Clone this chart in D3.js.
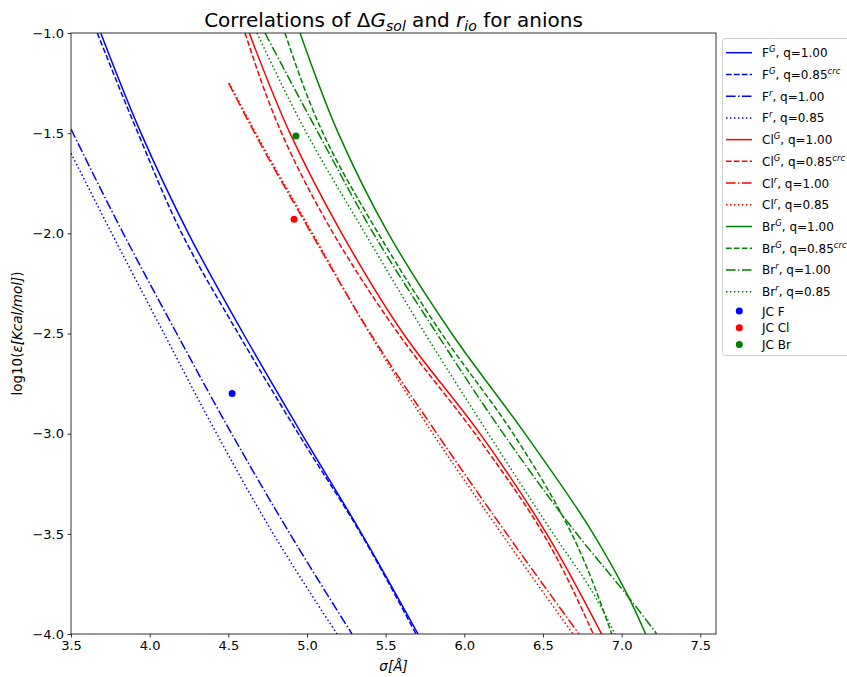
<!DOCTYPE html>
<html>
<head>
<meta charset="utf-8">
<script src="https://cdn.jsdelivr.net/npm/d3@7"></script>
<style>
  body { margin: 0; background: #fff; }
  text { font-family: "DejaVu Sans", sans-serif; fill: #000; }
</style>
</head>
<body>
<div id="chart"></div>
<script>
// tick values
var xTicks = [3.5, 4.0, 4.5, 5.0, 5.5, 6.0, 6.5, 7.0, 7.5];
var yTicks = [-1.0, -1.5, -2.0, -2.5, -3.0, -3.5, -4.0];

// curves: [sigma, log10(eps)]
var fG100 = [[3.689, -1], [3.945, -1.5], [4.246, -2], [4.595, -2.5], [4.966, -3], [5.348, -3.5], [5.706, -4]];
var fG085 = [[3.667, -1], [3.926, -1.5], [4.204, -2], [4.563, -2.5], [4.945, -3], [5.343, -3.5], [5.693, -4]];
var fR100 = [[3.5, -1.48], [3.832, -2], [4.172, -2.5], [4.521, -3], [4.892, -3.5], [5.286, -4]];
var fR085 = [[3.5, -1.6], [3.759, -2], [4.091, -2.5], [4.426, -3], [4.786, -3.5], [5.191, -4]];

var clG100 = [[4.633, -1], [4.892, -1.5], [5.221, -2], [5.612, -2.5], [6.100, -3], [6.524, -3.5], [6.873, -4]];
var clG085 = [[4.606, -1], [4.839, -1.5], [5.167, -2], [5.580, -2.5], [6.068, -3], [6.502, -3.5], [6.820, -4]];
var clR100 = [[4.502, -1.25], [4.668, -1.5], [5.028, -2], [5.403, -2.5], [5.826, -3], [6.270, -3.5], [6.729, -4]];
var clR085 = [[4.506, -1.25], [4.675, -1.5], [5.036, -2], [5.398, -2.5], [5.800, -3], [6.238, -3.5], [6.691, -4]];

var brG100 = [[4.956, -1], [5.199, -1.5], [5.517, -2], [5.920, -2.5], [6.386, -3], [6.820, -3.5], [7.054, -3.831], [7.153, -4]];
var brG085 = [[4.860, -1], [5.102, -1.5], [5.453, -2], [5.856, -2.5], [6.311, -3], [6.683, -3.5], [6.937, -4]];
var brR100 = [[4.733, -1], [5.072, -1.5], [5.422, -2], [5.825, -2.5], [6.248, -3], [6.715, -3.5], [7.075, -3.847], [7.223, -4]];
var brR085 = [[4.682, -1], [4.998, -1.5], [5.369, -2], [5.750, -2.5], [6.153, -3], [6.566, -3.5], [6.820, -3.797], [6.958, -4]];

// Joung-Cheatham points
var jcNames = ["JC F", "JC Cl", "JC Br"];
var jcSigma = [4.524, 4.918, 4.930];
var jcLogEps = [-2.80, -1.93, -1.514];

var blue = "#0000ff", red = "#ff0000", green = "#008000";
var dashes = { solid: null, dashed: "5.55,2.4", dashdot: "9.6,2.4,1.5,2.4", dotted: "1.5,2.475" };

var series = [
  { ion: "F", sup: "G", q: "1.00", crc: false, color: blue, dash: "solid", data: fG100 },
  { ion: "F", sup: "G", q: "0.85", crc: true, color: blue, dash: "dashed", data: fG085 },
  { ion: "F", sup: "r", q: "1.00", crc: false, color: blue, dash: "dashdot", data: fR100 },
  { ion: "F", sup: "r", q: "0.85", crc: false, color: blue, dash: "dotted", data: fR085 },
  { ion: "Cl", sup: "G", q: "1.00", crc: false, color: red, dash: "solid", data: clG100 },
  { ion: "Cl", sup: "G", q: "0.85", crc: true, color: red, dash: "dashed", data: clG085 },
  { ion: "Cl", sup: "r", q: "1.00", crc: false, color: red, dash: "dashdot", data: clR100 },
  { ion: "Cl", sup: "r", q: "0.85", crc: false, color: red, dash: "dotted", data: clR085 },
  { ion: "Br", sup: "G", q: "1.00", crc: false, color: green, dash: "solid", data: brG100 },
  { ion: "Br", sup: "G", q: "0.85", crc: true, color: green, dash: "dashed", data: brG085 },
  { ion: "Br", sup: "r", q: "1.00", crc: false, color: green, dash: "dashdot", data: brR100 },
  { ion: "Br", sup: "r", q: "0.85", crc: false, color: green, dash: "dotted", data: brR085 }
];
var jcColors = [blue, red, green];

// svg container
var svgWidth = 847, svgHeight = 677;
var margin = { top: 33, right: 131, bottom: 43, left: 71 };
var width = svgWidth - margin.left - margin.right;
var height = svgHeight - margin.top - margin.bottom;

var svg = d3.select("#chart").append("svg")
  .attr("width", svgWidth)
  .attr("height", svgHeight);

var chartGroup = svg.append("g")
  .attr("transform", `translate(${margin.left}, ${margin.top})`);

var x = d3.scaleLinear().domain([3.5, 7.6]).range([0, width]);
var y = d3.scaleLinear().domain([-4, -1]).range([height, 0]);

svg.append("defs").append("clipPath").attr("id", "plotclip")
  .append("rect").attr("width", width).attr("height", height);

// lines
var line = d3.line()
  .x(d => x(d[0]))
  .y(d => y(d[1]))
  .curve(d3.curveMonotoneY);

var lines = chartGroup.append("g").attr("clip-path", "url(#plotclip)");
series.forEach(function(s) {
  lines.append("path")
    .datum(s.data)
    .attr("d", line)
    .attr("fill", "none")
    .attr("stroke", s.color)
    .attr("stroke-width", 1.5)
    .attr("stroke-dasharray", dashes[s.dash]);
});

// JC points
lines.selectAll("circle.jc")
  .data(jcNames)
  .enter()
  .append("circle")
  .attr("class", "jc")
  .attr("cx", (d, i) => x(jcSigma[i]))
  .attr("cy", (d, i) => y(jcLogEps[i]))
  .attr("r", 3.5)
  .attr("fill", (d, i) => jcColors[i]);

// axes
var fmt = d3.format(".1f");
var bottomAxis = d3.axisBottom(x).tickValues(xTicks).tickFormat(fmt).tickSizeInner(3.5).tickSizeOuter(0).tickPadding(3.5);
var leftAxis = d3.axisLeft(y).tickValues(yTicks).tickFormat(fmt).tickSizeInner(3.5).tickSizeOuter(0).tickPadding(3.5);

var xAxisG = chartGroup.append("g")
  .attr("transform", `translate(0, ${height})`)
  .call(bottomAxis);
var yAxisG = chartGroup.append("g").call(leftAxis);

[xAxisG, yAxisG].forEach(function(g) {
  g.select(".domain").remove();
  g.selectAll("line").attr("stroke", "#000").attr("stroke-width", 0.8);
  g.selectAll("text").style("font-size", "13px").style("font-family", "DejaVu Sans");
});

// frame
chartGroup.append("rect")
  .attr("width", width)
  .attr("height", height)
  .attr("fill", "none")
  .attr("stroke", "#000")
  .attr("stroke-width", 0.8);

// title
var title = svg.append("text")
  .attr("x", margin.left + width / 2)
  .attr("y", 27)
  .attr("text-anchor", "middle")
  .style("font-size", "20px");
title.append("tspan").text("Correlations of Δ");
title.append("tspan").attr("font-style", "italic").text("G");
title.append("tspan").attr("font-style", "italic").attr("font-size", "14px").attr("dy", 4).text("sol");
title.append("tspan").attr("dy", -4).text(" and ");
title.append("tspan").attr("font-style", "italic").text("r");
title.append("tspan").attr("font-style", "italic").attr("font-size", "14px").attr("dy", 4).text("io");
title.append("tspan").attr("dy", -4).text(" for anions");

// x label
var xLabel = svg.append("text")
  .attr("x", margin.left + width / 2)
  .attr("y", 671)
  .attr("text-anchor", "middle")
  .style("font-size", "13.5px");
xLabel.append("tspan").attr("font-style", "italic").text("σ[Å]");

// y label
var yLabel = svg.append("text")
  .attr("transform", `translate(22, ${margin.top + height / 2}) rotate(-90)`)
  .attr("text-anchor", "middle")
  .style("font-size", "13.5px");
yLabel.append("tspan").text("log10(");
yLabel.append("tspan").attr("font-style", "italic").text("ε[Kcal/mol]");
yLabel.append("tspan").text(")");

// legend
var legend = svg.append("g");
legend.append("rect")
  .attr("x", 722.5)
  .attr("y", 38.5)
  .attr("width", 140)
  .attr("height", 317)
  .attr("rx", 3)
  .attr("fill", "#fff")
  .attr("fill-opacity", 0.8)
  .attr("stroke", "#d0d0d0")
  .attr("stroke-width", 1);

var rowY = d3.scaleLinear().domain([0, 11]).range([52.7, 291.7]);
series.forEach(function(s, i) {
  var yy = rowY(i);
  legend.append("line")
    .attr("x1", 726).attr("x2", 752)
    .attr("y1", yy).attr("y2", yy)
    .attr("stroke", s.color)
    .attr("stroke-width", 1.5)
    .attr("stroke-dasharray", dashes[s.dash]);
  var t = legend.append("text")
    .attr("x", 762)
    .attr("y", yy + 4.5)
    .style("font-size", "12px");
  t.append("tspan").text(s.ion);
  t.append("tspan").attr("font-style", "italic").attr("font-size", "8.5px").attr("dy", -5).text(s.sup);
  t.append("tspan").attr("dy", 5).text(", q=" + s.q);
  if (s.crc) {
    t.append("tspan").attr("font-style", "italic").attr("font-size", "8.5px").attr("dy", -5).text("crc");
  }
});

jcNames.forEach(function(name, i) {
  var yy = 311 + i * 16.7;
  legend.append("circle")
    .attr("cx", 739.3).attr("cy", yy).attr("r", 3.5)
    .attr("fill", jcColors[i]);
  legend.append("text")
    .attr("x", 762)
    .attr("y", yy + 4.5)
    .style("font-size", "12px")
    .text(name);
});
</script>
</body>
</html>
